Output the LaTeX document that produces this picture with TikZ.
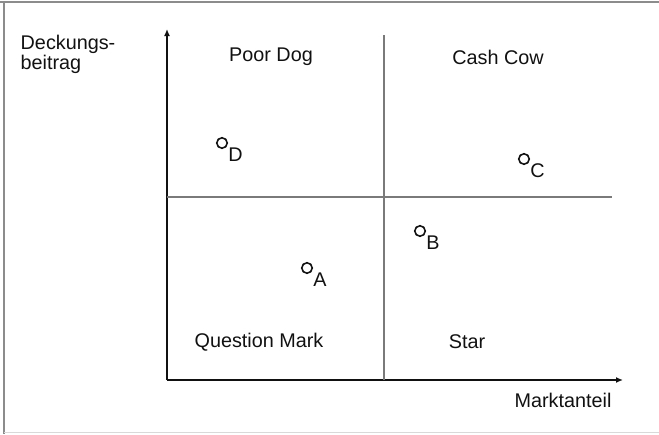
\documentclass[tikz,border=0pt]{standalone}
\usepackage{fontspec}
\setmainfont{Liberation Sans}
\usetikzlibrary{arrows.meta}
\definecolor{BCGInk}{HTML}{111111}
\definecolor{BCGGrid}{HTML}{7A7A7A}
\definecolor{BCGFrame}{HTML}{8C8C8C}

\begin{document}
\begin{tikzpicture}[x=1pt,y=-1pt,line width=1.4pt,draw=BCGInk,
  txt/.style={font=\fontsize{19.8}{20}\selectfont,text=BCGInk,inner sep=0pt},
  axis/.style={line width=1.7pt,-{Latex[length=7pt,width=6pt]}},
  divider/.style={line width=1.3pt,draw=BCGGrid},
  product/.style={circle,draw,line width=1.6pt,inner sep=0pt,minimum size=10.5pt,
    label={[txt,label distance=1pt]-35:#1}}]
\useasboundingbox (0,0) rectangle (659,434);
% frame
\draw[BCGFrame,line width=2pt] (0,2) -- (659,2);
\draw[BCGFrame,line width=2pt] (4,2) -- (4,434);
\draw[black!15,line width=1pt] (4,432) -- (659,432);
% axes
\coordinate (origin) at (167,380);
\coordinate (ytip) at (167,29);
\coordinate (xtip) at (623,380);
\draw[axis] (origin) -- (ytip);
\draw[axis] (origin) -- (xtip);
\node[txt,anchor=west,align=left] (ylabel) at (20,54) {Deckungs-\\beitrag};
\node[txt] (xlabel) at (563,400) {Marktanteil};
% quadrants
\coordinate (vtop) at (384,35);
\coordinate (hend) at (612,197);
\draw[divider] (vtop) -- (vtop |- origin);
\draw[divider] (origin |- hend) -- (hend);
\node[txt] (dog) at (271,57) {Poor Dog};
\node[txt] (cow) at (498,57) {Cash Cow};
\node[txt] (question) at (259,342) {Question Mark};
\node[txt] (star) at (467,342) {Star};
% products
\node[product=D] (D) at (222,143) {};
\node[product=C] (C) at (524,159) {};
\node[product=B] (B) at (420,231) {};
\node[product=A] (A) at (307,268) {};
\end{tikzpicture}
\end{document}
